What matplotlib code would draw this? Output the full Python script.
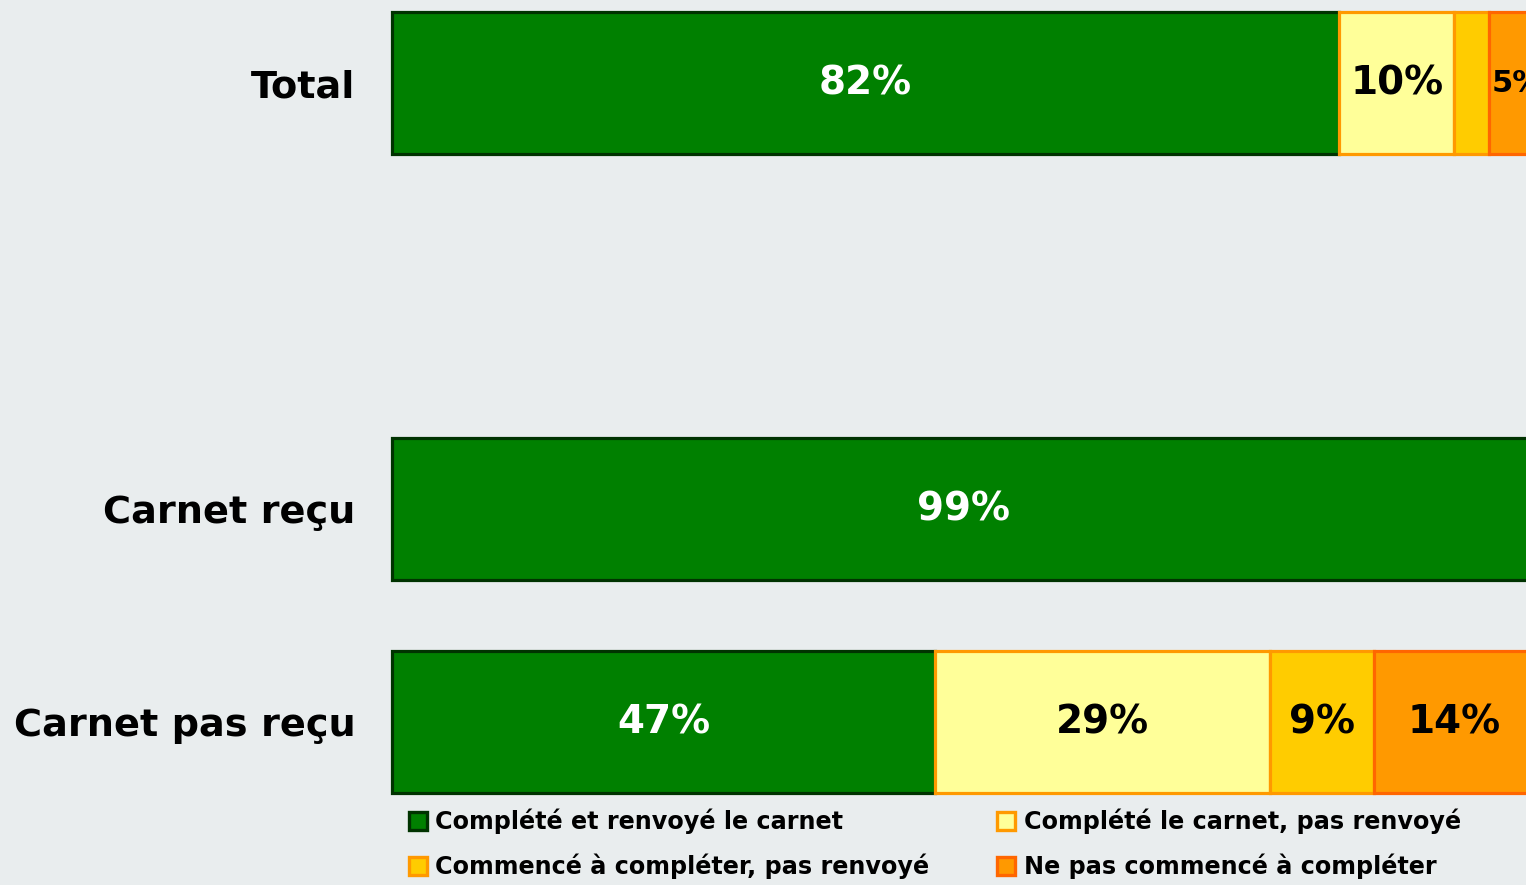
import matplotlib.pyplot as plt
from matplotlib.patches import Patch

# data
categories = ["Total", "Carnet reçu", "Carnet pas reçu"]
series = [
    "Complété et renvoyé le carnet",
    "Complété le carnet, pas renvoyé",
    "Commencé à compléter, pas renvoyé",
    "Ne pas commencé à compléter",
]
complete_sent = [82, 99, 47]
complete_not_sent = [10, 0, 29]
started = [3, 0, 9]
not_started = [5, 1, 14]

fills = ["#008000", "#ffff99", "#ffcc00", "#ff9900"]
edges = ["#003300", "#ff9900", "#ff9900", "#ff6600"]
text_colors = ["white", "black", "black", "black"]
bg = "#e9edee"

# the empty slot between Total and the two groups
ypos = [0, 2, 3]

fig = plt.figure(figsize=(15.26, 8.85), dpi=100, facecolor=bg)
ax = fig.add_axes([390 / 1526, 0, 1 - 390 / 1526, 1])
ax.set_facecolor(bg)

values = [complete_sent, complete_not_sent, started, not_started]
left = [0, 0, 0]
for k, vals in enumerate(values):
    ax.barh(ypos, vals, left=left, height=0.67, color=fills[k],
            edgecolor=edges[k], linewidth=2.3, label=series[k])
    for y, v, l in zip(ypos, vals, left):
        if v >= 5:
            fs = 28 if v >= 8 else 22
            ax.text(l + v / 2, y, f"{v}%", ha="center", va="center",
                    color=text_colors[k], fontsize=fs, fontweight="bold")
    left = [a + b for a, b in zip(left, vals)]

ax.set_xlim(-0.2, 98.2)
ax.set_ylim(3.765, -0.39)
ax.set_yticks(ypos)
ax.set_yticklabels(categories, fontsize=27.5, fontweight="bold")
ax.tick_params(axis="y", length=0, pad=25)
ax.set_xticks([])
for s in ax.spines.values():
    s.set_visible(False)

handles = [Patch(facecolor=fills[k], edgecolor=edges[k], linewidth=2.4) for k in range(4)]
order = [0, 2, 1, 3]
fig.legend([handles[i] for i in order], [series[i] for i in order],
           loc="upper left", bbox_to_anchor=(409 / 1526, 1 - 809 / 885),
           ncol=2, frameon=False, borderpad=0, borderaxespad=0,
           handlelength=0.75, handleheight=0.75, handletextpad=0.35,
           labelspacing=0.8, columnspacing=2.85,
           prop={"size": 17.2, "weight": "bold"})

plt.savefig("out.png", dpi=100, facecolor=bg)
